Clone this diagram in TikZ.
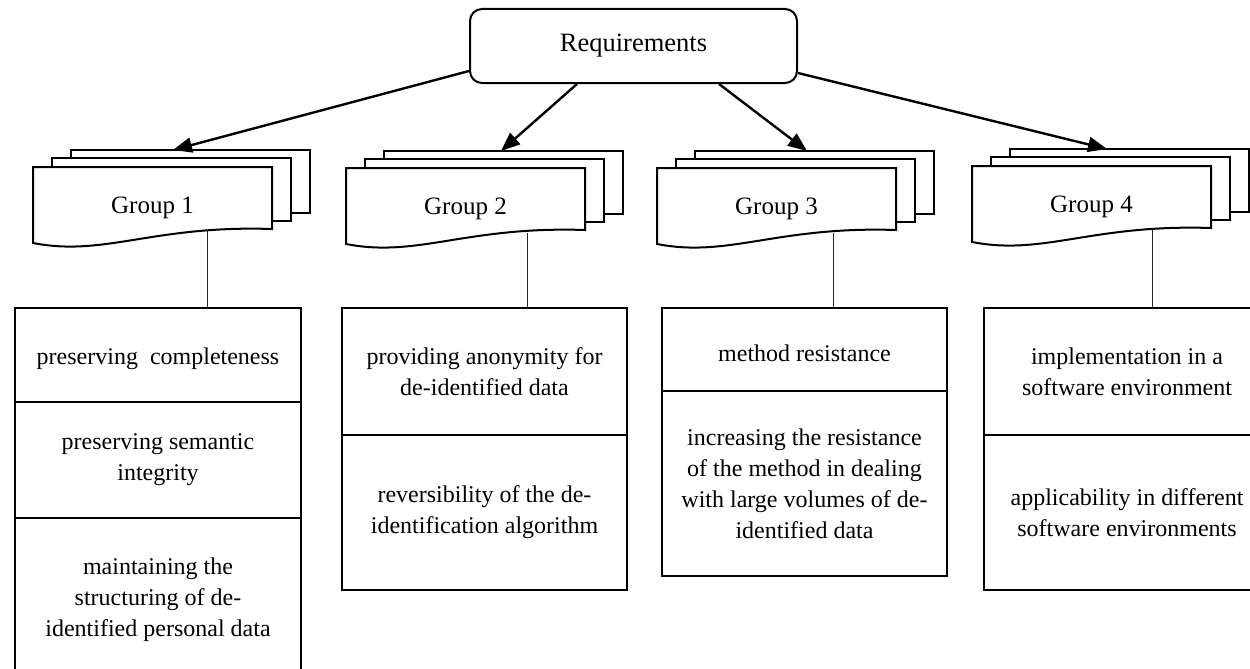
\documentclass[tikz,border=0pt]{standalone}
\usepackage{fontspec}
\setmainfont{Liberation Serif}
\usetikzlibrary{calc,arrows.meta}
\newcommand\mydocs[4]{%
  \draw[docline] (#1+38,#2-17) rectangle (#1+38+239,#2-17+63);
  \draw[docline] (#1+19,#2-9) rectangle (#1+19+239,#2-9+63);
  \draw[docline] (#1,#2) -- (#1+239,#2) -- (#1+239,#2+62)
     .. controls (#1+0.5*239,#2+58) and (#1+0.3*239,#2+90) .. (#1,#2+76) -- cycle;
  \node[gtxt] (#4) at (#1+119.5,#2+41) {#3};
}
\begin{document}
\begin{tikzpicture}[x=1pt,y=-1pt,
  gtxt/.style={font=\fontsize{25}{31}\selectfont, inner sep=0pt},
  docline/.style={draw, line width=2pt, fill=white},
  sect/.style={draw, line width=2pt, inner sep=0pt, anchor=north west,
     align=center, font=\fontsize{24}{31}\selectfont},
  arr/.style={line width=2.4pt, -{Triangle[length=19pt,width=15pt]}},
  conn/.style={line width=1pt, black!85}]
\useasboundingbox (0,0) rectangle (1250,669);
\clip (0,0) rectangle (1250,669);

% root
\node[draw, line width=2pt, rounded corners=12pt, minimum width=327pt,
  minimum height=74pt, inner sep=0pt, font=\fontsize{26.5}{30}\selectfont]
  (req) at (633.5,46) {Requirements};

% group stacks
\mydocs{33}{167}{Group 1}{g1}
\mydocs{346}{168}{Group 2}{g2}
\mydocs{657}{168}{Group 3}{g3}
\mydocs{972}{166}{Group 4}{g4}

% arrow targets (top of back sheets)
\coordinate (t1) at (173,150);
\coordinate (t2) at (501,151);
\coordinate (t3) at (807,151);
\coordinate (t4) at (1107,149);

\draw[arr] ($(req.south west)+(0,-13)$) -- (t1);
\draw[arr] ($(req.south west)+(108,0)$) -- (t2);
\draw[arr] ($(req.south west)+(250,0)$) -- (t3);
\draw[arr] ($(req.south east)+(0,-11)$) -- (t4);

% boxes: group 1
\node[sect, minimum width=286pt, minimum height=94pt] (b1a) at (14,307) {\rule{0pt}{24pt}preserving\ \ completeness};
\node[sect, minimum width=286pt, minimum height=116pt] (b1b) at (14,401) {preserving semantic\\integrity};
\node[sect, minimum width=286pt, minimum height=163pt] (b1c) at (14,517) {maintaining the\\structuring of de-\\identified personal data};

% group 2
\node[sect, minimum width=285pt, minimum height=127pt] (b2a) at (341,307) {providing anonymity for\\de-identified data};
\node[sect, minimum width=285pt, minimum height=155pt] (b2b) at (341,434) {reversibility of the de-\\identification algorithm};

% group 3
\node[sect, minimum width=285pt, minimum height=83pt] (b3a) at (661,307) {\rule{0pt}{24pt}method resistance};
\node[sect, minimum width=285pt, minimum height=185pt] (b3b) at (661,390) {increasing the resistance\\of the method in dealing\\with large volumes of de-\\identified data};

% group 4
\node[sect, minimum width=286pt, minimum height=127pt] (b4a) at (983,307) {implementation in a\\software environment};
\node[sect, minimum width=286pt, minimum height=155pt] (b4b) at (983,434) {applicability in different\\software environments};

% connectors from group sheets to boxes
\coordinate (c1) at (207,230);
\coordinate (c2) at (527,233);
\coordinate (c3) at (833,233);
\coordinate (c4) at (1152,230);
\draw[conn] (c1) -- (c1 |- b1a.north);
\draw[conn] (c2) -- (c2 |- b2a.north);
\draw[conn] (c3) -- (c3 |- b3a.north);
\draw[conn] (c4) -- (c4 |- b4a.north);
\end{tikzpicture}
\end{document}
